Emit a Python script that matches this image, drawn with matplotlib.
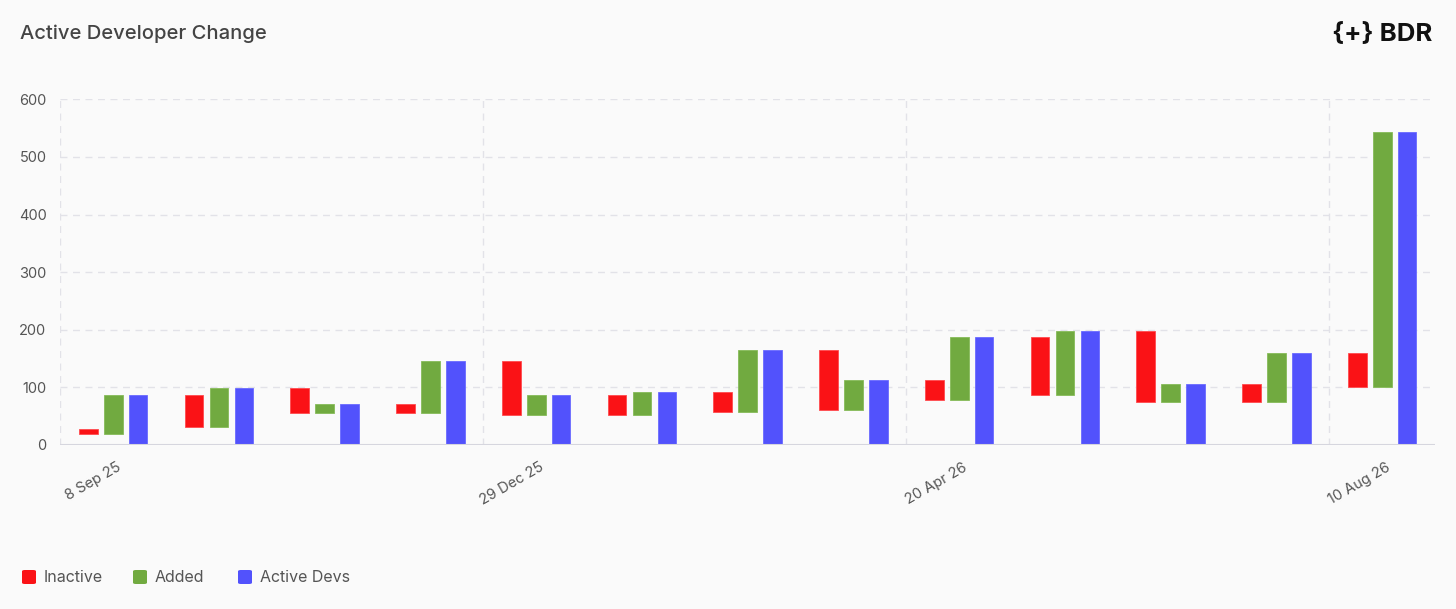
import matplotlib.pyplot as plt
import matplotlib.patches as mpatches
import numpy as np

plt.rcParams['font.family'] = ['Inter', 'DejaVu Sans']

# data (4-week steps)
periodos = ['8 Sep 25', '6 Oct 25', '3 Nov 25', '1 Dec 25', '29 Dec 25', '26 Jan 26',
            '23 Feb 26', '23 Mar 26', '20 Apr 26', '18 May 26', '15 Jun 26', '13 Jul 26',
            '10 Aug 26']
inactivos = [8, 55, 44, 15, 93, 34, 34, 104, 35, 100, 122, 31, 58]
agregados = [67, 68, 16, 89, 34, 40, 106, 53, 109, 110, 31, 84, 442]
activos = [86, 99, 71, 145, 86, 92, 164, 113, 187, 197, 106, 159, 543]

rojo = '#fa1216'
verde = '#71aa40'
azul = '#5252fc'
gris_texto = '#555555'

x = np.arange(len(periodos))
base = np.array(activos) - np.array(agregados)
ancho = 0.177
paso = 0.236

fig = plt.figure(figsize=(14.56, 6.09), dpi=100)
fig.patch.set_facecolor('#fafafa')
ax = fig.add_axes([0.0414, 0.2693, 0.9442, 0.5677])
ax.set_facecolor('#fafafa')

ax.bar(x - paso, inactivos, ancho, bottom=base, color=rojo, edgecolor='#ff4a4e', linewidth=0.6, zorder=3)
ax.bar(x, agregados, ancho, bottom=base, color=verde, edgecolor='#86bb58', linewidth=0.6, zorder=3)
ax.bar(x + paso, activos, ancho, color=azul, edgecolor='#6a6aff', linewidth=0.6, zorder=3)

ax.set_xlim(-0.5, len(periodos) - 0.5)
ax.set_ylim(0, 600)

# grid
for v in range(100, 601, 100):
    ax.axhline(v, color='#e2e2e8', linestyle=(0, (5, 4)), linewidth=1, zorder=1)
for g in x[::4]:
    ax.axvline(g - 0.5, color='#e2e2e8', linestyle=(0, (5, 4)), linewidth=1, zorder=1)
ax.axhline(0, color='#d6d6de', linewidth=1.5, zorder=4)

for s in ax.spines.values():
    s.set_visible(False)

ax.set_yticks(range(0, 601, 100))
ax.tick_params(axis='y', length=0, pad=10, labelsize=10.5, labelcolor=gris_texto)
ax.set_xticks(x[::4] + 0.03)
ax.set_xticklabels([periodos[i] for i in x[::4]], rotation=30, ha='right', va='top',
                   rotation_mode='anchor')
ax.tick_params(axis='x', length=0, pad=11, labelsize=10.5, labelcolor=gris_texto)

fig.text(20 / 1456, 1 - 34 / 609, 'Active Developer Change', fontsize=14.5, fontweight='medium',
         color='#444444', va='center', ha='left')
fig.text(1432 / 1456, 1 - 35 / 609, '{+} BDR', fontsize=18.5, fontweight='bold', color='#111111',
         va='center', ha='right')

# legend
etiquetas = ['Inactive', 'Added', 'Active Devs']
colores = [rojo, verde, azul]
posx = [22, 133, 238]
for px, col, et in zip(posx, colores, etiquetas):
    fig.patches.append(mpatches.FancyBboxPatch((px / 1456, 1 - 584 / 609), 14 / 1456, 14 / 609,
                                               boxstyle='round,pad=0,rounding_size=0.002',
                                               transform=fig.transFigure, facecolor=col,
                                               edgecolor='none'))
    fig.text((px + 22) / 1456, 1 - 577 / 609, et, fontsize=11.5, color=gris_texto, va='center',
             ha='left')

plt.savefig('out.png', dpi=100, facecolor=fig.get_facecolor())
